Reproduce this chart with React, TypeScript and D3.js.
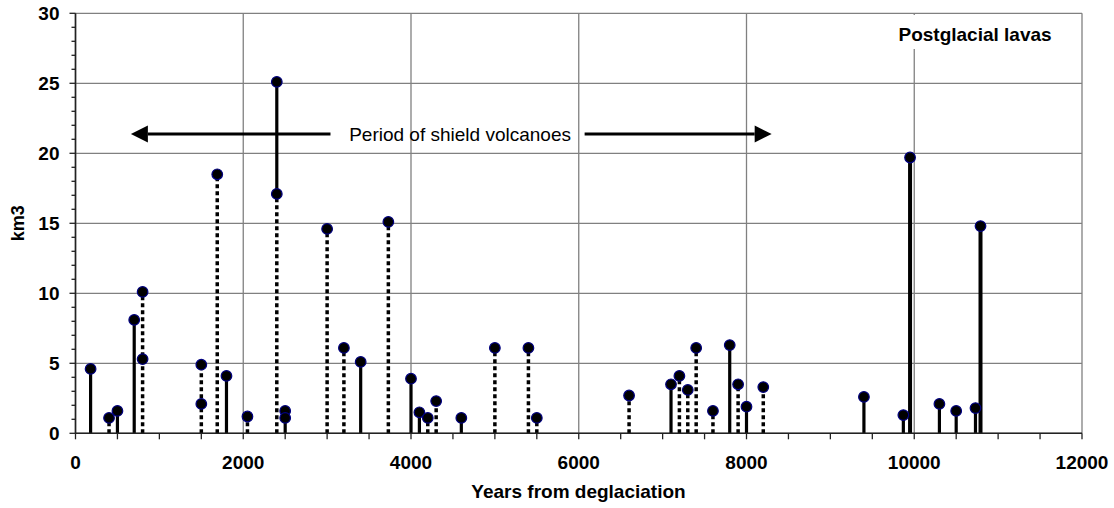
import React from "react";
import * as d3 from "d3";

// drop lines drawn solid from zero
const solidYears = [180, 500, 700, 1800, 2500, 3400, 4000, 4100, 4600, 7100, 7800, 8000, 9400, 9870, 10300, 10500, 10730];
const solidKm3 = [4.6, 1.6, 8.1, 4.1, 1.6, 5.1, 3.9, 1.5, 1.1, 3.5, 6.3, 1.9, 2.6, 1.3, 2.1, 1.6, 1.8];

// drop lines drawn dotted from zero
const dottedYears = [400, 800, 1500, 1690, 2050, 2400, 3000, 3200, 3730, 4200, 4300, 5000, 5400, 5500, 6600, 7200, 7300, 7400, 7600, 7900, 8200];
const dottedKm3 = [1.1, 10.1, 4.9, 18.5, 1.2, 17.1, 14.6, 6.1, 15.1, 1.1, 2.3, 6.1, 6.1, 1.1, 2.7, 4.1, 3.1, 6.1, 1.6, 3.5, 3.3];

// postglacial lavas (heavier lines)
const postYears = [9950, 10790];
const postKm3 = [19.7, 14.8];

// second eruptions sitting on an existing drop line
const extraYears = [800, 1500, 2500];
const extraKm3 = [5.3, 2.1, 1.1];

// solid segment stacked on top of the 2400 dotted line
const upperYears = [2400];
const upperFrom = [17.1];
const upperTo = [25.1];

const xTicks = [0, 2000, 4000, 6000, 8000, 10000, 12000];
const yTicks = [0, 5, 10, 15, 20, 25, 30];

const W = 1114;
const H = 508;
const FONT = "'Liberation Sans', Arial, Helvetica, sans-serif";

const App = () => {
  const x = d3.scaleLinear().domain([0, 12000]).range([75.5, 1082]);
  const y = d3.scaleLinear().domain([0, 30]).range([433.3, 13.3]);

  const gridColor = "#808080";
  const minorX = d3.range(0, 12001, 500);
  const minorY = d3.range(0, 31, 1);

  const solid = solidYears.map((yr, i) => ({ yr, v: solidKm3[i] }));
  const dotted = dottedYears.map((yr, i) => ({ yr, v: dottedKm3[i] }));
  const post = postYears.map((yr, i) => ({ yr, v: postKm3[i] }));
  const extra = extraYears.map((yr, i) => ({ yr, v: extraKm3[i] }));
  const upper = upperYears.map((yr, i) => ({ yr, a: upperFrom[i], b: upperTo[i] }));

  const markers = [...solid, ...dotted, ...post, ...extra, ...upper.map((d) => ({ yr: d.yr, v: d.b }))];

  // annotation arrows, in data units
  const arrowY = y(21.38);
  const leftFrom = x(3040);
  const leftTip = x(660);
  const rightFrom = x(6070);
  const rightTip = x(8300);
  const head = 17;

  return (
    <svg width={W} height={H} style={{ position: "absolute", left: 0, top: 0, background: "#fff" }} fontFamily={FONT}>
      <rect width={W} height={H} fill="#fff" />

      {/* grid */}
      {yTicks.map((t) => (
        <line key={"gy" + t} x1={x(0)} x2={x(12000)} y1={y(t)} y2={y(t)} stroke={gridColor} strokeWidth={1.3} />
      ))}
      {xTicks.map((t) => (
        <line key={"gx" + t} x1={x(t)} x2={x(t)} y1={y(0)} y2={y(30)} stroke={gridColor} strokeWidth={1.3} />
      ))}

      {/* label backing for postglacial */}
      <rect x={896} y={15} width={157} height={34} fill="#fff" />
      <text x={898.5} y={40.7} fontSize={19} fontWeight="bold" fill="#000">
        Postglacial lavas
      </text>

      {/* stems */}
      {dotted.map((d, i) => (
        <line key={"d" + i} x1={x(d.yr)} x2={x(d.yr)} y1={y(0)} y2={y(d.v)} stroke="#000" strokeWidth={3.5} strokeDasharray="4 3" />
      ))}
      {solid.map((d, i) => (
        <line key={"s" + i} x1={x(d.yr)} x2={x(d.yr)} y1={y(0)} y2={y(d.v)} stroke="#000" strokeWidth={3.2} />
      ))}
      {upper.map((d, i) => (
        <line key={"u" + i} x1={x(d.yr)} x2={x(d.yr)} y1={y(d.a)} y2={y(d.b)} stroke="#000" strokeWidth={3.2} />
      ))}
      {post.map((d, i) => (
        <line key={"p" + i} x1={x(d.yr)} x2={x(d.yr)} y1={y(0)} y2={y(d.v)} stroke="#000" strokeWidth={4} />
      ))}

      {/* markers */}
      {markers.map((d, i) => (
        <circle key={"m" + i} cx={x(d.yr)} cy={y(d.v)} r={5.3} fill="#000" stroke="#000080" strokeWidth={1.2} />
      ))}

      {/* axes */}
      <line x1={x(0)} x2={x(0)} y1={y(0)} y2={y(30)} stroke="#222" strokeWidth={1.6} />
      <line x1={x(0)} x2={x(12000)} y1={y(0)} y2={y(0)} stroke="#222" strokeWidth={1.6} />
      {minorY.map((t) => (
        <line key={"ty" + t} x1={x(0) - (t % 5 === 0 ? 6 : 4)} x2={x(0)} y1={y(t)} y2={y(t)} stroke="#222" strokeWidth={1.3} />
      ))}
      {minorX.map((t) => (
        <line key={"tx" + t} x1={x(t)} x2={x(t)} y1={y(0)} y2={y(0) + 6} stroke="#222" strokeWidth={1.3} />
      ))}
      {yTicks.map((t) => (
        <text key={"ly" + t} x={59.5} y={y(t)} dy="0.35em" textAnchor="end" fontSize={19} fontWeight="bold">
          {t}
        </text>
      ))}
      {xTicks.map((t) => (
        <text key={"lx" + t} x={x(t)} y={469} textAnchor="middle" fontSize={19} fontWeight="bold">
          {t}
        </text>
      ))}
      <text x={578.5} y={498.3} textAnchor="middle" fontSize={19} fontWeight="bold">
        Years from deglaciation
      </text>
      <text transform={`translate(24, ${y(15)}) rotate(-90)`} textAnchor="middle" fontSize={18} fontWeight="bold">
        km3
      </text>

      {/* period annotation */}
      <line x1={leftFrom} x2={leftTip + head} y1={arrowY} y2={arrowY} stroke="#000" strokeWidth={3} />
      <path d={`M${leftTip},${arrowY} L${leftTip + head},${arrowY - 8.5} L${leftTip + head},${arrowY + 8.5} Z`} fill="#000" />
      <line x1={rightFrom} x2={rightTip - head} y1={arrowY} y2={arrowY} stroke="#000" strokeWidth={3} />
      <path d={`M${rightTip},${arrowY} L${rightTip - head},${arrowY - 8.5} L${rightTip - head},${arrowY + 8.5} Z`} fill="#000" />
      <text x={x(3263)} y={141} fontSize={19} fill="#000">
        Period of shield volcanoes
      </text>
    </svg>
  );
};

export default App;
